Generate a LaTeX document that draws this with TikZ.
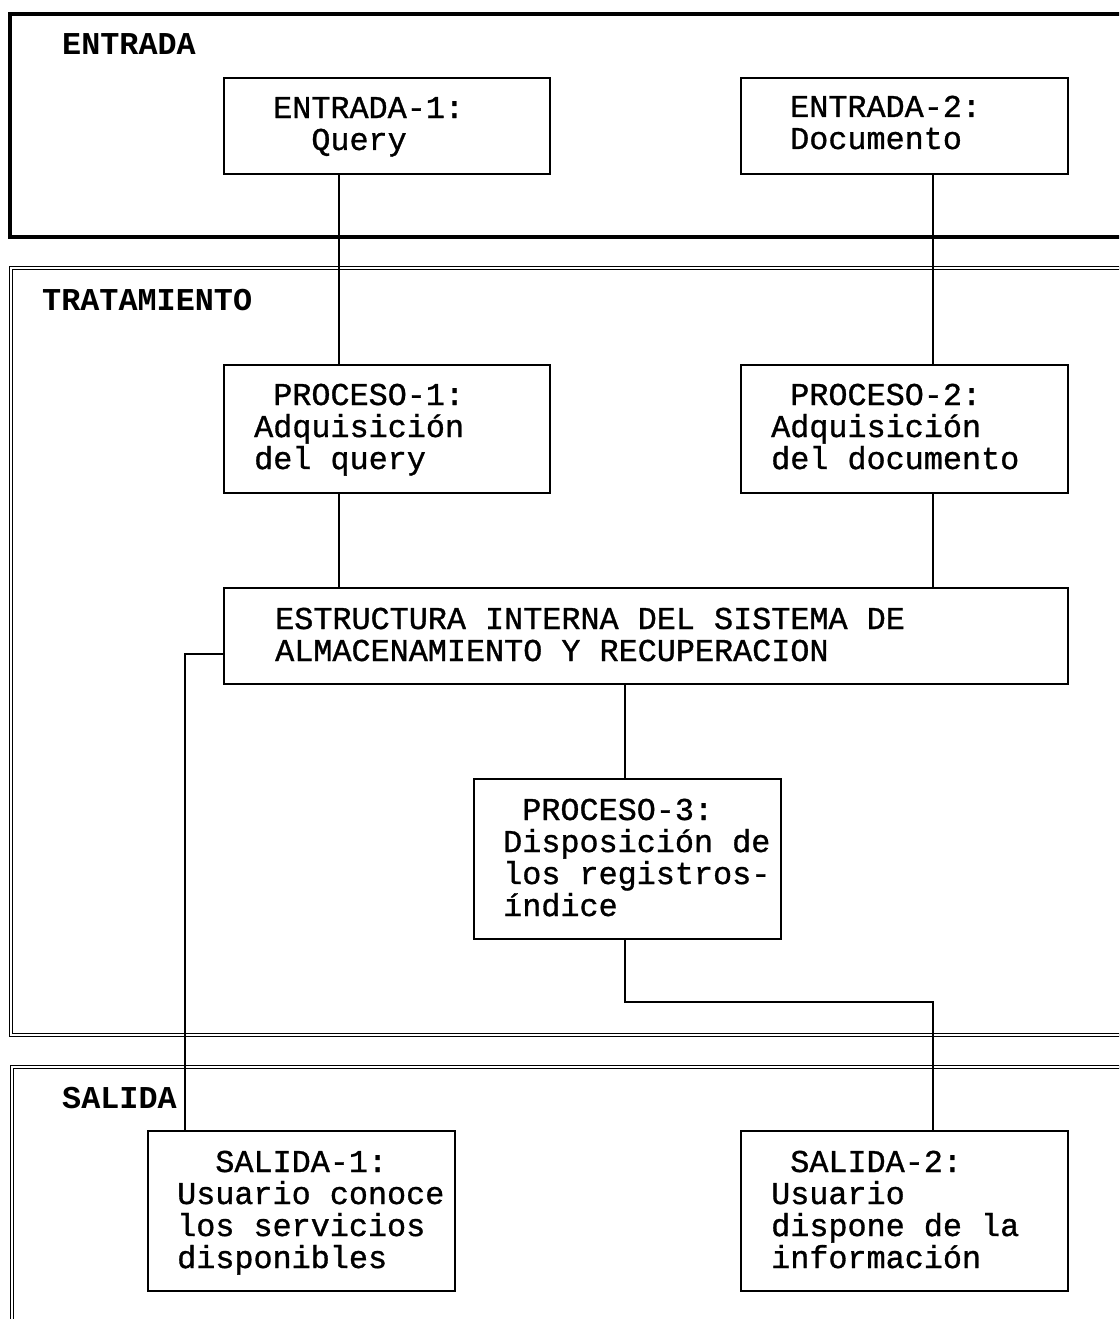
\documentclass[tikz,border=0pt]{standalone}
\usepackage{fontspec}
\newfontfamily\boxfont{Liberation Mono}[FakeBold=1]
\newfontfamily\headfont{Liberation Mono Bold}
\newcommand\txtlines[1]{\vtop{\baselineskip=32pt\lineskiplimit=-100pt\lineskip=0pt\relax #1}}
\newcommand\tline[1]{\hbox{#1}}
\begin{document}
\begin{tikzpicture}[x=1pt,y=-1pt,
  panel/.style={line width=3.5pt},
  panelb/.style={double, line width=1.8pt, double distance=1.2pt},
  box/.style={draw, line width=2pt, anchor=north west, inner sep=0pt},
  wire/.style={line width=2pt},
  txt/.style={anchor=base west, inner sep=0pt, font=\boxfont\fontsize{31.8pt}{32pt}\selectfont},
  head/.style={anchor=base west, inner sep=0pt, font=\headfont\fontsize{31.8pt}{32pt}\selectfont}]
\useasboundingbox (0,0) rectangle (1119,1319);
\fill[white] (0,0) rectangle (1119,1319);
\begin{scope}
\clip (0,0) rectangle (1119,1319);
\draw[panel] (10,14) rectangle (1140,237);
\draw[panelb] (11,268) rectangle (1140,1035);
\draw[panelb] (12,1067) rectangle (1140,1345);
\end{scope}
\node[head] (lentrada) at (62,55) {ENTRADA};
\node[head] (ltrat) at (42,310) {TRATAMIENTO};
\node[head] (lsalida) at (62,1108) {SALIDA};
% boxes
\node[box, minimum width=326pt, minimum height=96pt] (e1) at (223,77) {};
\node[box, minimum width=327pt, minimum height=96pt] (e2) at (740,77) {};
\node[box, minimum width=326pt, minimum height=128pt] (p1) at (223,364) {};
\node[box, minimum width=327pt, minimum height=128pt] (p2) at (740,364) {};
\node[box, minimum width=844pt, minimum height=96pt] (est) at (223,587) {};
\node[box, minimum width=307pt, minimum height=160pt] (p3) at (473,778) {};
\node[box, minimum width=307pt, minimum height=160pt] (s1) at (147,1130) {};
\node[box, minimum width=327pt, minimum height=160pt] (s2) at (740,1130) {};
% texts
\node[txt] (te1) at (273,118) {\txtlines{\tline{ENTRADA-1:}\tline{\phantom{xx}Query}}};
\node[txt] (te2) at (790,117) {\txtlines{\tline{ENTRADA-2:}\tline{Documento}}};
\node[txt] (tp1) at (254,405) {\txtlines{\tline{\phantom{x}PROCESO-1:}\tline{Adquisición}\tline{del query}}};
\node[txt] (tp2) at (771,405) {\txtlines{\tline{\phantom{x}PROCESO-2:}\tline{Adquisición}\tline{del documento}}};
\node[txt] (test) at (275,629) {\txtlines{\tline{ESTRUCTURA INTERNA DEL SISTEMA DE}\tline{ALMACENAMIENTO Y RECUPERACION}}};
\node[txt] (tp3) at (503,820) {\txtlines{\tline{\phantom{x}PROCESO-3:}\tline{Disposición de}\tline{los registros-}\tline{índice}}};
\node[txt] (ts1) at (177,1172) {\txtlines{\tline{\phantom{xx}SALIDA-1:}\tline{Usuario conoce}\tline{los servicios}\tline{disponibles}}};
\node[txt] (ts2) at (771,1172) {\txtlines{\tline{\phantom{x}SALIDA-2:}\tline{Usuario}\tline{dispone de la}\tline{información}}};
% connectors
\draw[wire] ([xshift=116pt]e1.south west) -- ([xshift=116pt]p1.north west);
\draw[wire] ([xshift=193pt]e2.south west) -- ([xshift=193pt]p2.north west);
\draw[wire] ([xshift=116pt]p1.south west) -- ([xshift=116pt]est.north west);
\draw[wire] ([xshift=193pt]p2.south west) -- ([xshift=710pt]est.north west);
\draw[wire] ([xshift=402pt]est.south west) -- ([xshift=152pt]p3.north west);
\draw[wire] ([yshift=31pt]est.south west) -| ([xshift=38pt]s1.north west);
\coordinate (bend) at (933,1002);
\draw[wire] ([xshift=152pt]p3.south west) |- (bend) -- ([xshift=193pt]s2.north west);
\end{tikzpicture}
\end{document}
